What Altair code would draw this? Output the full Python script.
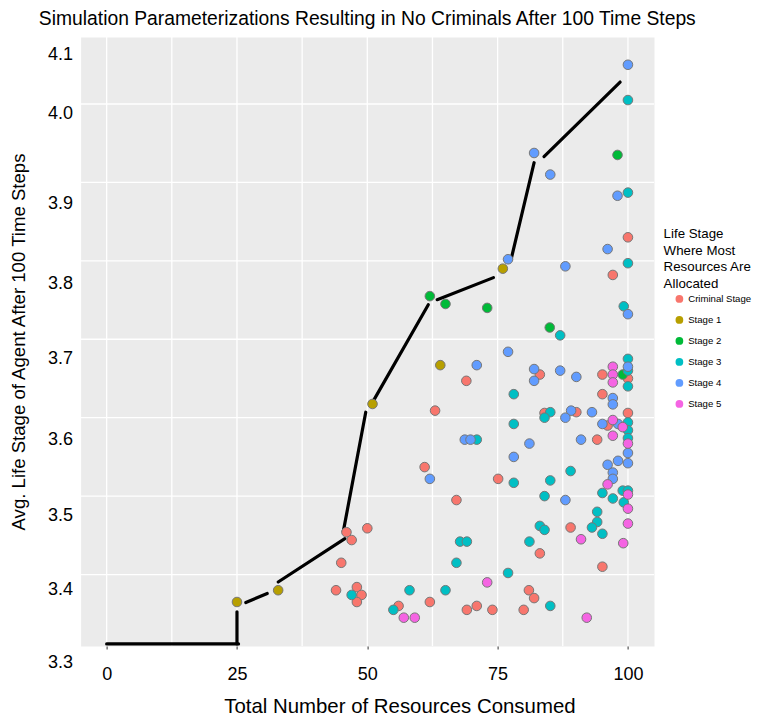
import altair as alt
import pandas as pd

# ---------------- data ----------------
stages = ["Criminal Stage", "Stage 1", "Stage 2", "Stage 3", "Stage 4", "Stage 5"]
colors = ["#F8766D", "#B79F00", "#00BA38", "#00BFC4", "#619CFF", "#F564E3"]

crim_x = [100, 97.1, 83.1, 69.0, 95.1, 100, 95.1, 63.0, 84.0, 90.1, 96.1, 100, 94.1, 61.0, 75.1,
          67.1, 89.0, 83.1, 95.1, 62.0, 81.0, 82.0, 56.0, 69.1, 71.0, 74.0, 80.0, 46.0, 47.0, 50.0,
          45.0, 44.0, 48.0, 48.9, 48.0]
crim_y = [3.830, 3.782, 3.655, 3.647, 3.655, 3.650, 3.630, 3.609, 3.606, 3.607, 3.590, 3.606, 3.572,
          3.537, 3.522, 3.495, 3.460, 3.427, 3.410, 3.365, 3.380, 3.370, 3.360, 3.355, 3.360, 3.355,
          3.355, 3.454, 3.444, 3.459, 3.415, 3.380, 3.384, 3.374, 3.365]

s1_x = [25.0, 32.9, 51.0, 64.0, 76.0]
s1_y = [3.365, 3.380, 3.6175, 3.667, 3.790]

s2_x = [98.0, 62.0, 65.0, 73.0, 85.0, 99.0]
s2_y = [3.935, 3.755, 3.745, 3.740, 3.715, 3.655]

s3_x = [100, 100, 100, 99.2, 87.0, 100, 100, 100, 78.1, 85.1, 84.0, 100, 100, 100, 78.1, 71.0,
        89.0, 78.1, 85.1, 99.0, 100, 95.1, 97.1, 99.2, 84.0, 94.1, 94.1, 93.1, 95.1, 83.1, 84.0,
        81.1, 67.8, 69.1, 67.1, 77.0, 58.1, 65.0, 55.0, 85.1, 47.0]
s3_y = [4.005, 3.887, 3.797, 3.742, 3.705, 3.675, 3.660, 3.640, 3.630, 3.607, 3.600, 3.594, 3.584,
        3.574, 3.592, 3.572, 3.532, 3.517, 3.520, 3.507, 3.507, 3.504, 3.497, 3.492, 3.500, 3.480,
        3.467, 3.460, 3.452, 3.462, 3.457, 3.442, 3.442, 3.442, 3.415, 3.402, 3.380, 3.380, 3.355,
        3.360, 3.374]

s4_x = [100, 82.0, 85.1, 98.0, 96.1, 77.0, 88.0, 100, 77.0, 71.0, 82.0, 82.0, 87.0, 90.1, 100,
        97.1, 97.1, 89.1, 88.0, 93.1, 95.1, 98.1, 68.7, 69.8, 81.1, 91.0, 100, 78.1, 96.1, 98.1,
        100, 62.0, 97.1, 97.1, 88.0]
s4_y = [4.050, 3.9375, 3.910, 3.883, 3.815, 3.802, 3.793, 3.732, 3.684, 3.667, 3.662, 3.647, 3.660,
        3.652, 3.665, 3.625, 3.617, 3.609, 3.600, 3.607, 3.592, 3.592, 3.572, 3.572, 3.567, 3.572,
        3.555, 3.550, 3.540, 3.545, 3.542, 3.522, 3.530, 3.522, 3.495]

s5_x = [97.1, 97.1, 97.1, 97.1, 99.0, 97.1, 100, 96.1, 100, 100, 91.0, 100, 99.1, 73.0, 57.0,
        59.1, 92.1]
s5_y = [3.665, 3.655, 3.645, 3.597, 3.588, 3.577, 3.567, 3.515, 3.502, 3.484, 3.445, 3.465, 3.440,
        3.390, 3.345, 3.345, 3.345]

# frontier line pieces (start x, start y, end x, end y)
seg_x1 = [0.0, 25.0, 26.7, 32.9, 45.4, 51.0, 63.4, 77.6, 83.9]
seg_y1 = [3.3115, 3.3525, 3.3643, 3.3905, 3.4550, 3.6195, 3.7505, 3.8023, 3.9329]
seg_x2 = [25.3, 25.0, 30.8, 45.7, 49.7, 61.7, 74.2, 82.0, 98.5]
seg_y2 = [3.3115, 3.3115, 3.3758, 3.4458, 3.6070, 3.7440, 3.7786, 3.9251, 4.0280]

x_grid = [0, 12.5, 25, 37.5, 50, 62.5, 75, 87.5, 100]
y_grid = [3.4, 3.5, 3.6, 3.7, 3.8, 3.9, 4.0]

x_ticks = [0, 25, 50, 75, 100]
y_tick_labels = ["4.1", "4.0", "3.9", "3.8", "3.7", "3.6", "3.5", "3.4", "3.3"]
y_tick_at = [4.0850, 4.0089, 3.8954, 3.7934, 3.6977, 3.5945, 3.4975, 3.4032, 3.3092]

x_title = "Total Number of Resources Consumed"
y_title = "Avg. Life Stage of Agent After 100 Time Steps"

# ---------------- tables ----------------
rows = []
for name, xs_, ys_ in zip(stages, [crim_x, s1_x, s2_x, s3_x, s4_x, s5_x],
                          [crim_y, s1_y, s2_y, s3_y, s4_y, s5_y]):
    for a, b in zip(xs_, ys_):
        rows.append({"res": a, "life": b, "stage": name})
pts = pd.DataFrame(rows)
segs = pd.DataFrame({"x1": seg_x1, "y1": seg_y1, "x2": seg_x2, "y2": seg_y2})

FONT = "Liberation Sans"
xs = alt.Scale(domain=[-5, 105], nice=False, zero=False)
ys = alt.Scale(domain=[3.3089, 4.0854], nice=False, zero=False)

label_expr = " : ".join(
    f"abs(datum.value - {v}) < 1e-6 ? '{t}'" for v, t in zip(y_tick_at, y_tick_labels)
) + " : ''"

x_axis = alt.Axis(values=x_ticks, grid=False, domain=False, tickSize=3, tickColor="#333333",
                  labelFontSize=18, labelColor="black", labelPadding=16, labelFont=FONT,
                  titleFontSize=20.4, titleFontWeight="normal", titleColor="black", titleFont=FONT,
                  titleX=318.8, titleY=66.5, titleBaseline="alphabetic", titleAlign="center")
y_axis = alt.Axis(values=y_tick_at, labelExpr=label_expr, grid=False, domain=False, ticks=False,
                  labelFontSize=18, labelColor="black", labelPadding=8, labelOffset=17,
                  labelFont=FONT, labelBaseline="middle",
                  titleFontSize=18.6, titleFontWeight="normal", titleColor="black", titleFont=FONT,
                  titleX=-62.3, titleY=304.5, titleBaseline="middle", titleAlign="center",
                  titleAngle=270)

xgrid = alt.Chart(pd.DataFrame({"gx": x_grid})).mark_rule(color="white", strokeWidth=1.3).encode(
    x=alt.X("gx:Q", scale=xs, axis=x_axis, title=x_title))
ygrid = alt.Chart(pd.DataFrame({"gy": y_grid})).mark_rule(color="white", strokeWidth=1.3).encode(
    y=alt.Y("gy:Q", scale=ys, axis=y_axis, title=y_title))

line = alt.Chart(segs).mark_rule(color="black", strokeWidth=3.2, strokeCap="round").encode(
    x=alt.X("x1:Q", scale=xs, axis=x_axis, title=x_title), x2="x2:Q",
    y=alt.Y("y1:Q", scale=ys, axis=y_axis, title=y_title), y2="y2:Q")

points = alt.Chart(pts).mark_circle(size=92, opacity=1, stroke="#777777", strokeWidth=1).encode(
    x=alt.X("res:Q", scale=xs, axis=x_axis, title=x_title),
    y=alt.Y("life:Q", scale=ys, axis=y_axis, title=y_title),
    color=alt.Color("stage:N", scale=alt.Scale(domain=stages, range=colors),
                    legend=alt.Legend(title=["Life Stage", "Where Most", "Resources Are", "Allocated"],
                                      orient="none", legendX=583, legendY=190, padding=0,
                                      titleFontSize=13.3, titleLineHeight=16.6, titleFontWeight="normal",
                                      titleColor="black", titleFont=FONT, titlePadding=4,
                                      labelFontSize=9.6, labelColor="black", labelFont=FONT,
                                      symbolSize=60, symbolType="circle", symbolStrokeWidth=0,
                                      symbolOffset=11, labelOffset=4, rowPadding=10, labelLimit=200)),
)

chart = alt.layer(xgrid, ygrid, line, points).properties(
    width=573.4, height=609,
    autosize=alt.AutoSizeParams(type="none"),
    padding={"left": 72.6, "top": 29, "right": 99, "bottom": 71},
    title=alt.TitleParams("Simulation Parameterizations Resulting in No Criminals After 100 Time Steps",
                          fontSize=19.3, fontWeight="normal", color="black", anchor="middle",
                          offset=-8, baseline="alphabetic", font=FONT),
).configure(font=FONT, background="white").configure_view(fill="#EBEBEB", stroke="transparent")

chart.save("out.html", embed_options={"renderer": "svg", "actions": False})
